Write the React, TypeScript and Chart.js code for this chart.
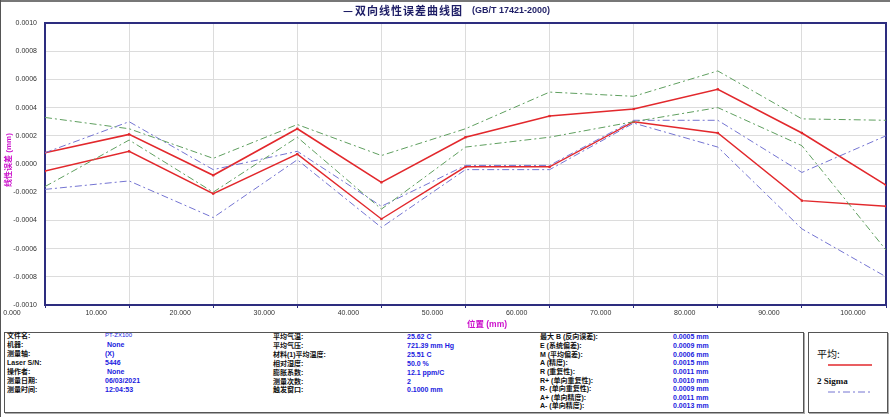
import React, { useEffect, useRef } from "react";
import { Chart, registerables } from "chart.js";

Chart.register(...registerables);

// ---------- data ----------
const positions = [0, 10, 20, 30, 40, 50, 60, 70, 80, 90, 100];
const xTickLabels = ["0.000", "10.000", "20.000", "30.000", "40.000", "50.000", "60.000", "70.000", "80.000", "90.000", "100.000"];
const yTicks = [-0.001, -0.0008, -0.0006, -0.0004, -0.0002, 0, 0.0002, 0.0004, 0.0006, 0.0008, 0.001];
const yTickLabels = ["-0.0010", "-0.0008", "-0.0006", "-0.0004", "-0.0002", "0.0000", "0.0002", "0.0004", "0.0006", "0.0008", "0.0010"];

const meanForward = [0.00008, 0.00021, -0.00008, 0.00025, -0.00013, 0.00019, 0.00034, 0.00039, 0.00053, 0.00022, -0.00015];
const meanReverse = [-0.00005, 0.00009, -0.00021, 0.00007, -0.00039, -0.00002, -0.00002, 0.0003, 0.00022, -0.00026, -0.0003];
const sigmaForwardUpper = [0.00033, 0.00025, 0.00004, 0.00028, 0.00006, 0.00025, 0.00051, 0.00048, 0.00066, 0.00032, 0.00031];
const sigmaForwardLower = [-0.00016, 0.00017, -0.0002, 0.00019, -0.00032, 0.00012, 0.00019, 0.0003, 0.0004, 0.00013, -0.00061];
const sigmaReverseUpper = [0.00008, 0.0003, -0.00004, 0.00009, -0.0003, -0.00001, -0.00001, 0.00031, 0.00031, -0.00006, 0.0002];
const sigmaReverseLower = [-0.00018, -0.00012, -0.00038, 0.00003, -0.00045, -0.00004, -0.00004, 0.00029, 0.00012, -0.00046, -0.0008];

const titleDash = "—";
const titleMain = "双向线性误差曲线图";
const titleStd = "(GB/T 17421-2000)";
const yAxisTitle = "线性误差 (mm)";
const xAxisTitle = "位置 (mm)";

const col1Labels = ["文件名:", "机器:", "测量轴:", "Laser S/N:", "操作者:", "测量日期:", "测量时间:"];
const col1Values = ["PT-ZX100", " None", "(X)", "5446", " None", "06/03/2021", "12:04:53"];
const col2Labels = ["平均气温:", "平均气压:", "材料(1)平均温度:", "相对湿度:", "膨胀系数:", "测量次数:", "触发窗口:"];
const col2Values = ["25.62 C", "721.39 mm Hg", "25.51 C", "50.0 %", "12.1 ppm/C", "2", "0.1000 mm"];
const col3Labels = ["最大 B (反向误差):", "E (系统偏差):", "M (平均偏差):", "A (精度):", "R (重复性):", "R+ (单向重复性):", "R- (单向重复性):", "A+ (单向精度):", "A- (单向精度):"];
const col3Values = ["0.0005 mm", "0.0009 mm", "0.0006 mm", "0.0015 mm", "0.0011 mm", "0.0010 mm", "0.0009 mm", "0.0011 mm", "0.0013 mm"];
const legendMean = "平均:";
const legendSigma = "2 Sigma";

// ---------- styles ----------
const NAVY = "#2d2d7f";
const RED = "#e2282c";
const GREEN = "#5f9f5f";
const BLUE = "#7474d2";
const MAGENTA = "#cc11cc";
const VALUE_BLUE = "#1a1ae0";
const LATIN = "'Liberation Sans', Arial, sans-serif";
const CJK = "'Liberation Sans', 'Noto Sans CJK SC', sans-serif";
const DASH = [7, 3, 2, 3];

const toPoints = (arr: number[]) => positions.map((x, i) => ({ x, y: arr[i] }));

const decorPlugin = {
  id: "decor",
  beforeDatasetsDraw(chart: any) {
    const { ctx, chartArea: a } = chart;
    ctx.save();
    ctx.strokeStyle = NAVY;
    ctx.lineWidth = 2;
    ctx.strokeRect(a.left, a.top, a.right - a.left, a.bottom - a.top);
    ctx.restore();
  },
  afterDraw(chart: any) {
    const { ctx } = chart;
    ctx.save();
    // main title
    ctx.fillStyle = "#1e1e66";
    ctx.textBaseline = "middle";
    ctx.textAlign = "left";
    ctx.font = "bold 11px 'Noto Sans CJK SC', sans-serif";
    ctx.fillText(titleDash, 343, 11);
    (ctx as any).letterSpacing = "1px";
    ctx.fillText(titleMain, 355, 11);
    (ctx as any).letterSpacing = "0px";
    ctx.font = "bold 9px " + LATIN;
    ctx.fillText(titleStd, 472, 11);
    // y title
    ctx.fillStyle = MAGENTA;
    ctx.font = "bold 8px " + CJK;
    ctx.translate(8.5, 160);
    ctx.rotate(-Math.PI / 2);
    ctx.textAlign = "center";
    ctx.fillText(yAxisTitle, 0, 0);
    ctx.restore();
    ctx.save();
    ctx.fillStyle = MAGENTA;
    ctx.font = "bold 8.5px " + CJK;
    ctx.textAlign = "center";
    ctx.textBaseline = "middle";
    ctx.fillText(xAxisTitle, 487, 325);
    ctx.restore();
  },
};

function InfoColumn({ labels, values, lx, vx, top, step }: { labels: string[]; values: string[]; lx: number; vx: number; top: number; step: number }) {
  return (
    <>
      {labels.map((t, i) => (
        <div key={"l" + i} style={{ position: "absolute", left: lx, top: top + i * step - 4.5, height: 9, lineHeight: "9px", fontSize: 7, fontWeight: "bold", fontFamily: CJK, color: "#111", whiteSpace: "pre" }}>{t}</div>
      ))}
      {values.map((t, i) => (
        <div key={"v" + i} style={{ position: "absolute", left: vx, top: top + i * step - 4.5, height: 9, lineHeight: "9px", fontSize: t === "PT-ZX100" ? 6 : 7, fontWeight: t === "PT-ZX100" ? "normal" : "bold", fontFamily: LATIN, color: VALUE_BLUE, whiteSpace: "pre" }}>{t}</div>
      ))}
    </>
  );
}

export default function App() {
  const ref = useRef<HTMLCanvasElement | null>(null);

  useEffect(() => {
    if (!ref.current) return;
    const sigmaDs = (data: number[], color: string) => ({
      data: toPoints(data),
      borderColor: color,
      borderWidth: 1,
      borderDash: DASH,
      pointRadius: 0,
      tension: 0,
      fill: false,
    });
    const meanDs = (data: number[], w: number) => ({
      data: toPoints(data),
      borderColor: RED,
      borderWidth: w,
      pointRadius: 1.6,
      pointStyle: "rect",
      pointBackgroundColor: RED,
      pointBorderWidth: 0,
      tension: 0,
      fill: false,
    });
    const chart = new Chart(ref.current, {
      type: "line",
      data: {
        datasets: [
          sigmaDs(sigmaForwardUpper, GREEN),
          sigmaDs(sigmaForwardLower, GREEN),
          sigmaDs(sigmaReverseUpper, BLUE),
          sigmaDs(sigmaReverseLower, BLUE),
          meanDs(meanForward, 1.6),
          meanDs(meanReverse, 1.4),
        ] as any,
      },
      options: {
        animation: false,
        responsive: false,
        maintainAspectRatio: false,
        layout: { padding: { top: 23, right: 4, left: 0, bottom: 0 } },
        plugins: { legend: { display: false }, title: { display: false }, tooltip: { enabled: false } },
        scales: {
          x: {
            type: "linear",
            min: positions[0],
            max: positions[positions.length - 1],
            afterBuildTicks: (s: any) => {
              s.ticks = positions.map((v) => ({ value: v }));
            },
            afterFit: (s: any) => {
              s.height = 25;
              s.paddingLeft = 0;
              s.paddingRight = 0;
            },
            grid: { color: "#dcdcdc", lineWidth: 1, drawTicks: true, tickLength: 3, tickColor: NAVY, tickWidth: 1 },
            border: { display: true, color: NAVY, width: 2 },
            ticks: {
              autoSkip: false,
              maxRotation: 0,
              minRotation: 0,
              padding: 1,
              labelOffset: -33,
              color: "#333",
              font: { family: LATIN, size: 7 },
              callback: (_v: any, i: number) => xTickLabels[i],
            },
          },
          y: {
            min: yTicks[0],
            max: yTicks[yTicks.length - 1],
            afterBuildTicks: (s: any) => {
              s.ticks = yTicks.map((v) => ({ value: v }));
            },
            afterFit: (s: any) => {
              s.width = 45;
            },
            grid: { color: "#dcdcdc", lineWidth: 1, drawTicks: false },
            border: { display: true, color: NAVY, width: 2 },
            ticks: {
              padding: 8,
              color: "#333",
              font: { family: LATIN, size: 7 },
              callback: (_v: any, i: number) => yTickLabels[i],
            },
          },
        },
      } as any,
      plugins: [decorPlugin],
    });
    return () => chart.destroy();
  }, []);

  return (
    <div style={{ position: "fixed", left: 0, top: 0, width: 890, height: 417, background: "#fff", overflow: "hidden" }}>
      <div style={{ position: "absolute", left: 0, top: 0, width: 890, height: 1.5, background: "#777" }} />
      <div style={{ position: "absolute", left: 0, top: 0, width: 1, height: 417, background: "#555" }} />
      <canvas ref={ref} width={890} height={330} style={{ position: "absolute", left: 0, top: 0, width: 890, height: 330 }} />
      {/* info box */}
      <div style={{ position: "absolute", left: 4, top: 332, width: 798, height: 79, border: "1px solid #555", boxShadow: "1px 1px 0 #aaa", background: "#fff" }} />
      <InfoColumn labels={col1Labels} values={col1Values} lx={7} vx={105} top={335.8} step={8.93} />
      <InfoColumn labels={col2Labels} values={col2Values} lx={273} vx={407} top={336.7} step={8.88} />
      <InfoColumn labels={col3Labels} values={col3Values} lx={540} vx={673} top={336.7} step={8.66} />
      {/* legend box */}
      <div style={{ position: "absolute", left: 808, top: 332, width: 78, height: 79, border: "1px solid #555", boxShadow: "1px 1px 0 #aaa", background: "#fff" }} />
      <div style={{ position: "absolute", left: 817, top: 348, lineHeight: "12px", fontSize: 10, fontFamily: "'Noto Sans CJK SC', serif", color: "#111" }}>{legendMean}</div>
      <svg style={{ position: "absolute", left: 826, top: 362 }} width={48} height={6}>
        <line x1={2} y1={3} x2={46} y2={3} stroke={RED} strokeWidth={1.4} />
      </svg>
      <div style={{ position: "absolute", left: 817, top: 376, lineHeight: "11px", fontSize: 9, fontWeight: "bold", fontFamily: "'Liberation Serif', serif", color: "#111" }}>{legendSigma}</div>
      <svg style={{ position: "absolute", left: 826, top: 389 }} width={48} height={6}>
        <line x1={2} y1={3} x2={46} y2={3} stroke={BLUE} strokeWidth={1} strokeDasharray="7 3 2 3" />
      </svg>
    </div>
  );
}
